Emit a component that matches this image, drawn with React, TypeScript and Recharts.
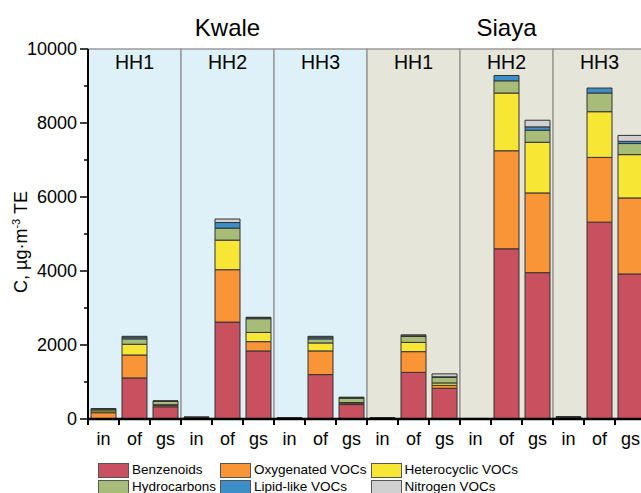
import { BarChart, Bar, XAxis, YAxis, ReferenceArea, Legend } from 'recharts'

// 6 panels x 3 samples (in = indoor, of = open fire, gs = gas stove)
const categories = [
  'K1-in', 'K1-of', 'K1-gs', 'K2-in', 'K2-of', 'K2-gs', 'K3-in', 'K3-of', 'K3-gs',
  'S1-in', 'S1-of', 'S1-gs', 'S2-in', 'S2-of', 'S2-gs', 'S3-in', 'S3-of', 'S3-gs',
]
const tickLabels = [
  'in', 'of', 'gs', 'in', 'of', 'gs', 'in', 'of', 'gs',
  'in', 'of', 'gs', 'in', 'of', 'gs', 'in', 'of', 'gs',
]
const panelNames = ['HH1', 'HH2', 'HH3', 'HH1', 'HH2', 'HH3']
const siteNames = ['Kwale', 'Siaya']
const yTicks = [0, 1000, 2000, 3000, 4000, 5000, 6000, 7000, 8000, 9000, 10000]

const benzenoids = [10, 1110, 330, 20, 2620, 1840, 15, 1200, 390, 15, 1260, 830, 10, 4600, 3955, 25, 5320, 3920]
const oxygenated = [160, 620, 40, 15, 1415, 250, 10, 640, 40, 10, 560, 80, 5, 2650, 2155, 15, 1750, 2055]
const heterocyclic = [50, 290, 15, 5, 800, 250, 5, 215, 15, 5, 250, 65, 0, 1560, 1370, 5, 1235, 1170]
const hydrocarbons = [50, 145, 90, 5, 325, 370, 5, 110, 115, 5, 160, 150, 0, 330, 325, 10, 505, 300]
const lipidLike = [5, 50, 10, 3, 150, 30, 3, 50, 20, 3, 20, 15, 0, 145, 90, 3, 135, 60]
const nitrogen = [5, 20, 5, 2, 95, 10, 2, 20, 10, 2, 25, 80, 0, 0, 180, 2, 0, 160]

const series = [
  { key: 'benzenoids', name: 'Benzenoids', color: '#C8505F' },
  { key: 'oxygenated', name: 'Oxygenated VOCs', color: '#F99537' },
  { key: 'heterocyclic', name: 'Heterocyclic VOCs', color: '#F8E635' },
  { key: 'hydrocarbons', name: 'Hydrocarbons', color: '#A8BC79' },
  { key: 'lipidLike', name: 'Lipid-like VOCs', color: '#3C8FC6' },
  { key: 'nitrogen', name: 'Nitrogen VOCs', color: '#D0D0D0' },
]

const data = categories.map((cat, i) => ({
  cat,
  benzenoids: benzenoids[i],
  oxygenated: oxygenated[i],
  heterocyclic: heterocyclic[i],
  hydrocarbons: hydrocarbons[i],
  lipidLike: lipidLike[i],
  nitrogen: nitrogen[i],
}))

const W = 660
const H = 500
const Y_W = 88
const margin = { top: 49, right: 14, left: 0, bottom: 18 }
const HALF_BAND = (W - margin.left - margin.right - Y_W) / categories.length / 2
const panelFill = ['#DFF1F8', '#E6E5D9']

function XTick({ x, y, index }: any) {
  return (
    <g>
      <line x1={x - HALF_BAND} x2={x - HALF_BAND} y1={y} y2={y + 6} stroke="#000" strokeWidth={2} />
      <text x={x} y={y + 26} textAnchor="middle" fontSize={18} fill="#000">
        {tickLabels[index]}
      </text>
    </g>
  )
}

function YTick({ x, y, payload }: any) {
  const major = payload.value % 2000 === 0
  return (
    <g>
      <line x1={x - (major ? 8 : 4)} x2={x} y1={y} y2={y} stroke="#000" strokeWidth={1.5} />
      {major && (
        <text x={x - 11} y={y} dy="0.36em" textAnchor="end" fontSize={18} fill="#000">
          {payload.value}
        </text>
      )}
    </g>
  )
}

function YLabel({ viewBox }: any) {
  const cx = viewBox.x + 27
  const cy = viewBox.y + viewBox.height / 2 + 8
  return (
    <text x={cx} y={cy} transform={`rotate(-90 ${cx} ${cy})`} textAnchor="middle" fontSize={18} fill="#000">
      C, µg·m<tspan fontSize={11} dy={-7}>-3</tspan>
      <tspan dy={7}> TE</tspan>
    </text>
  )
}

function LegendBox() {
  return (
    <div
      style={{
        display: 'grid',
        gridTemplateColumns: 'auto auto auto',
        columnGap: 4,
        rowGap: 1,
        height: 33,
        fontSize: 13.5,
        lineHeight: '16px',
        color: '#000',
      }}
    >
      {series.map(s => (
        <div key={s.key} style={{ display: 'flex', alignItems: 'center', height: 16 }}>
          <span
            style={{
              display: 'inline-block',
              boxSizing: 'border-box',
              width: 31,
              height: 15,
              background: s.color,
              border: '1px solid #555',
              marginRight: 3,
            }}
          />
          <span>{s.name}</span>
        </div>
      ))}
    </div>
  )
}

export default function App() {
  return (
    <div
      style={{
        position: 'absolute',
        left: 0,
        top: 0,
        width: 641,
        height: 493,
        overflow: 'hidden',
        background: '#fff',
        fontFamily: '"Liberation Sans", Arial, sans-serif',
      }}
    >
      <BarChart width={W} height={H} data={data} margin={margin} barSize={25}>
        {siteNames.map((site, s) => (
          <ReferenceArea
            key={site}
            x1={categories[s * 9]}
            x2={categories[s * 9 + 8]}
            fill="none"
            stroke="none"
            label={{ value: site, position: 'top', offset: 13, fontSize: 24, fill: '#000' }}
          />
        ))}
        {panelNames.map((p, i) => (
          <ReferenceArea
            key={i}
            x1={categories[i * 3]}
            x2={categories[i * 3 + 2]}
            fill={panelFill[i < 3 ? 0 : 1]}
            fillOpacity={1}
            stroke="#9a9a9a"
            strokeWidth={1.5}
            label={{ value: p, position: 'insideTop', offset: 6, fontSize: 19.5, fill: '#000' }}
          />
        ))}
        <XAxis
          dataKey="cat"
          interval={0}
          height={30}
          tickSize={0}
          tickMargin={0}
          tickLine={false}
          axisLine={{ stroke: '#000', strokeWidth: 2.5 }}
          tick={<XTick />}
        />
        <YAxis
          width={Y_W}
          domain={[0, 10000]}
          ticks={yTicks}
          interval={0}
          tickSize={0}
          tickMargin={0}
          tickLine={false}
          axisLine={{ stroke: '#000', strokeWidth: 2 }}
          tick={<YTick />}
          label={<YLabel />}
        />
        {series.map(s => (
          <Bar
            key={s.key}
            dataKey={s.key}
            name={s.name}
            stackId="a"
            fill={s.color}
            stroke="#333"
            strokeWidth={1}
            isAnimationActive={false}
          />
        ))}
        <Legend
          content={<LegendBox />}
          wrapperStyle={{ left: 98, top: 462, bottom: 'auto', width: 'auto' }}
        />
      </BarChart>
    </div>
  )
}
